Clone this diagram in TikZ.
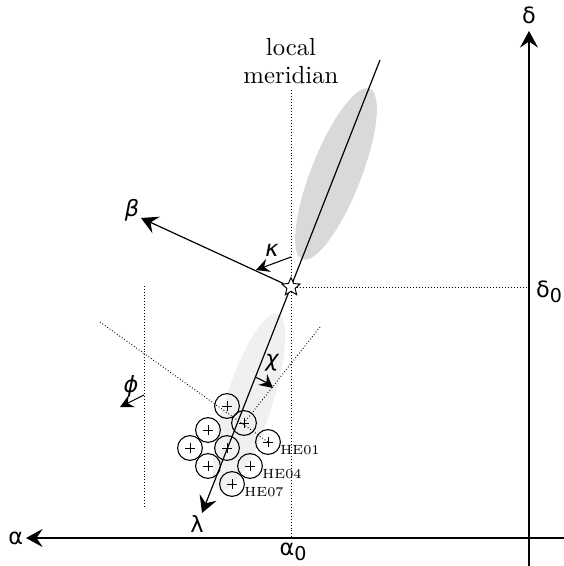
\documentclass[tikz,border=0pt]{standalone}
\usepackage{fontspec}
\newfontfamily\gfont{DejaVu Sans}
\usetikzlibrary{positioning,arrows.meta,shapes.geometric}
\newcommand\lowsub[1]{\raisebox{-0.45ex}{\fontsize{8}{9}\selectfont #1}}
\tikzset{
    % Arrow styles
    axis/.style={-{Stealth[length=7pt, width=7.6pt, inset=2.6pt]}, line width=0.5pt},
    small arrow/.style={-{Stealth[length=5.6pt, width=5.8pt, inset=2pt]}, line width=0.45pt},
    guide/.style={dash pattern=on 0.35pt off 0.9pt, line width=0.4pt},
    % Label styles
    greek/.style={font=\gfont\fontsize{9.4}{11}\selectfont, inner sep=0pt},
    slanted/.style={font=\gfont\itshape\fontsize{9.4}{11}\selectfont, inner sep=0pt},
    horn label/.style={font=\fontsize{5.6}{6}\selectfont, anchor=west, inner sep=0pt},
    % Feed horns
    horn/.style={circle, draw, line width=0.45pt, minimum size=10.4pt, inner sep=0pt,
                 path picture={
                   \draw[line width=0.4pt]
                     ([xshift=-2.1pt]path picture bounding box.center) -- ([xshift=2.1pt]path picture bounding box.center)
                     ([yshift=-2.1pt]path picture bounding box.center) -- ([yshift=2.1pt]path picture bounding box.center);
                 }},
}

\begin{document}
\begin{tikzpicture}[x=0.42pt, y=-0.42pt]
    \useasboundingbox (0,0) rectangle (564,566);

    % Beam footprints
    \node[ellipse, fill=gray!30, minimum width=77pt, minimum height=21pt, rotate=68.5] (beam) at (336,174) {};
    \node[ellipse, fill=gray!12, minimum width=78pt, minimum height=19.5pt, rotate=72] (ghost) at (249,402) {};

    % Reference points
    \coordinate (O) at (291,287);
    \coordinate (ra east) at (564,538);
    \coordinate (ra tip) at (26,538);
    \coordinate (dec south) at (529,566);
    \coordinate (dec tip) at (529,31);
    \coordinate (mer top) at (291,90);
    \coordinate (mer foot) at (291,538);
    \coordinate (dec zero) at (528,287);
    \coordinate (lam top) at (380,60);
    \coordinate (lam tip) at (202,513);
    \coordinate (beta tip) at (141,218);
    \coordinate (kap start) at (291,257);
    \coordinate (kap tip) at (256,270);
    \coordinate (phi top) at (144,286);
    \coordinate (phi foot) at (144,508);
    \coordinate (phi start) at (144,395);
    \coordinate (phi tip) at (120,407);
    \coordinate (fov left) at (100,322);
    \coordinate (fov right) at (320,327);
    \coordinate (chi start) at (255,377);
    \coordinate (chi tip) at (273,388);

    % Axes
    \draw[axis] (ra east) -- (ra tip);
    \draw[axis] (dec south) -- (dec tip);
    \node[greek, left=1pt of ra tip] {α};
    \node[greek, above=3pt of dec tip] {δ};
    \node[greek] at (293,552) {α\lowsub{0}};
    \node[greek] at (549,292) {δ\lowsub{0}};

    % Meridian and offsets
    \draw[guide] (mer top) -- (mer foot);
    \node[align=center, font=\fontsize{10.4}{11.5}\selectfont, inner sep=0pt] at (291,61) {local\\meridian};
    \draw[guide] (O) -- (dec zero);
    \draw[guide] (phi top) -- (phi foot);

    % Feed horns
    \foreach \name/\px/\py in {c1/227/406, c2/244/423, he01/268/442, c3/208/430, c5/190/448,
                               c6/227/448, c7/208/466, he04/250/466, he07/232/484}
        \node[horn] (\name) at (\px,\py) {};
    \node[horn label] at ([shift={(12,8)}]he01.center) {HE01};
    \node[horn label] at ([shift={(12,8)}]he04.center) {HE04};
    \node[horn label] at ([shift={(12,8)}]he07.center) {HE07};

    % Field of view
    \draw[guide] (fov left) -- (he01.center);
    \draw[guide] (fov right) -- (c2.center);

    % Scan direction and source
    \draw[axis] (lam top) -- (lam tip);
    \node[greek] at (197,524) {λ};
    \node[star, star points=5, star point ratio=2.2, draw, fill=white, line width=0.4pt,
          minimum size=8pt, inner sep=0pt] (src) at (O) {};
    \draw[axis] (src) -- (beta tip);
    \node[slanted] at (132,210) {β};

    % Angles
    \draw[small arrow] (kap start) -- (kap tip);
    \node[slanted] at (272,250) {κ};
    \draw[small arrow] (chi start) to[bend left=8] (chi tip);
    \node[slanted] at (272,363) {χ};
    \draw[small arrow] (phi start) -- (phi tip);
    \node[slanted] at (131,386) {ϕ};
\end{tikzpicture}
\end{document}
